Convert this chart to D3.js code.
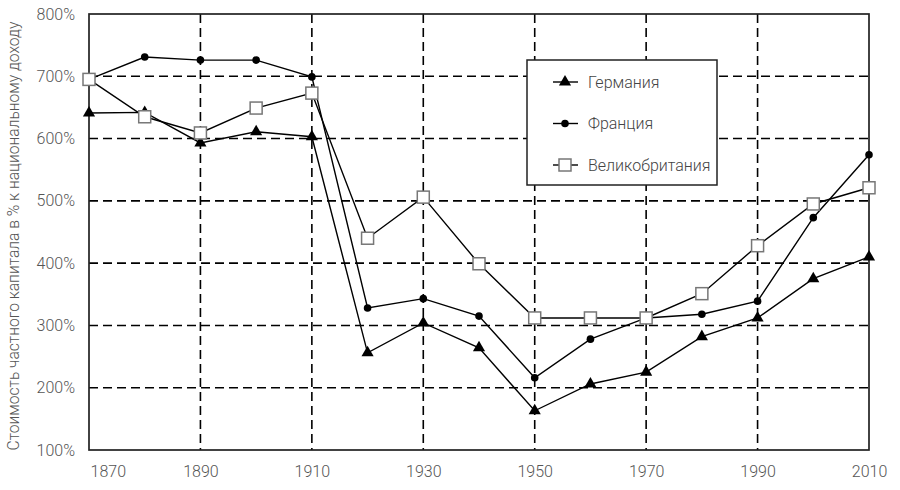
<!DOCTYPE html>
<html><head><meta charset="utf-8">
<script src="https://cdn.jsdelivr.net/npm/d3@7"></script>
<style>body{margin:0;background:#fff}svg{display:block}text{font-family:Roboto,"Noto Sans",sans-serif}</style>
</head><body><svg id="c" width="900" height="490"></svg>
<script>
const years = [1870,1880,1890,1900,1910,1920,1930,1940,1950,1960,1970,1980,1990,2000,2010];
const germany = [641,642,593,611,603,256,304,264,163,206,225,282,312,375,410];
const france  = [695,731,726,726,699,328,343,315,216,278,312,318,339,473,574];
const britain = [695,635,609,649,673,440,506,399,312,312,312,351,428,495,521];
const seriesNames = ["Германия","Франция","Великобритания"];
const xTicks = [1870,1890,1910,1930,1950,1970,1990,2010];
const yTicks = [100,200,300,400,500,600,700,800];
const yTitle = "Стоимость частного капитала в % к национальному доходу";

const svg = d3.select("#c");
const L=89, R=869, T=14, B=450;
const x = d3.scaleLinear().domain([1870,2010]).range([L,R]);
const y = d3.scaleLinear().domain([100,800]).range([B,T]);

// grid
const g = svg.append("g");
g.selectAll("line.h").data(yTicks.filter(v=>v>100&&v<800)).join("line")
  .attr("x1",L).attr("x2",R).attr("y1",d=>y(d)).attr("y2",d=>y(d))
  .attr("stroke","#000").attr("stroke-width",1.6).attr("stroke-dasharray","9,5");
g.selectAll("line.v").data(xTicks.filter(v=>v>1870&&v<2010)).join("line")
  .attr("y1",T).attr("y2",B).attr("x1",d=>x(d)).attr("x2",d=>x(d))
  .attr("stroke","#000").attr("stroke-width",1.6).attr("stroke-dasharray","9,5");
// frame
svg.append("rect").attr("x",L).attr("y",T).attr("width",R-L).attr("height",B-T)
  .attr("fill","none").attr("stroke","#222").attr("stroke-width",1.7);

// axes
const ya = svg.append("g").attr("transform",`translate(${L},0)`)
  .call(d3.axisLeft(y).tickValues(yTicks).tickFormat(d=>d+"%").tickSize(0).tickPadding(14));
ya.select(".domain").remove();
ya.selectAll("text").attr("font-size",16).attr("fill","#555").attr("font-weight",300);
const xa = svg.append("g").attr("transform",`translate(0,${B})`)
  .call(d3.axisBottom(x).tickValues(xTicks).tickFormat(d3.format("d")).tickSize(0).tickPadding(16));
xa.select(".domain").remove();
xa.selectAll("text").attr("font-size",16).attr("fill","#555").attr("font-weight",300)
  .attr("text-anchor",d=>d===1870?"start":"middle").attr("dx",d=>d===1870?1:0);

svg.append("text").attr("transform",`translate(19,${(T+B)/2+4}) rotate(-90)`)
  .attr("text-anchor","middle").attr("font-size",15.6).attr("fill","#555").attr("font-weight",300)
  .text(yTitle);

const line = d3.line().x(d=>x(d[0])).y(d=>y(d[1]));
const sets = [germany,france,britain].map(v=>years.map((yr,i)=>[yr,v[i]]));
const tri = d3.symbol().type(d3.symbolTriangle).size(64);
function drawMarker(sel,k){
  if(k===0) sel.append("path").attr("d",tri).attr("fill","#000");
  else if(k===1) sel.append("circle").attr("r",3.8).attr("fill","#000");
  else sel.append("rect").attr("x",-6).attr("y",-6).attr("width",12).attr("height",12)
    .attr("fill","#fff").attr("stroke","#777").attr("stroke-width",1.5);
}
// lines
[2,1,0].forEach(k=>{
  svg.append("path").datum(sets[k]).attr("d",line).attr("fill","none")
    .attr("stroke","#000").attr("stroke-width",1.4);
});
[1,0,2].forEach(k=>{
  sets[k].forEach(p=>{
    const m = svg.append("g").attr("transform",`translate(${x(p[0])},${y(p[1])})`);
    drawMarker(m,k);
  });
});

// legend
const lg = svg.append("g");
lg.append("rect").attr("x",527).attr("y",60).attr("width",190).attr("height",125)
  .attr("fill","#fff").attr("stroke","#222").attr("stroke-width",1.5);
seriesNames.forEach((n,i)=>{
  const yy = 82 + i*41.5;
  lg.append("line").attr("x1",553).attr("x2",578).attr("y1",yy).attr("y2",yy).attr("stroke","#000").attr("stroke-width",1.4);
  const m = lg.append("g").attr("transform",`translate(565,${yy})`);
  drawMarker(m,i);
  lg.append("text").attr("x",588).attr("y",yy+5.5).attr("font-size",16).attr("fill","#444").attr("font-weight",300).text(n);
});
</script></body></html>
